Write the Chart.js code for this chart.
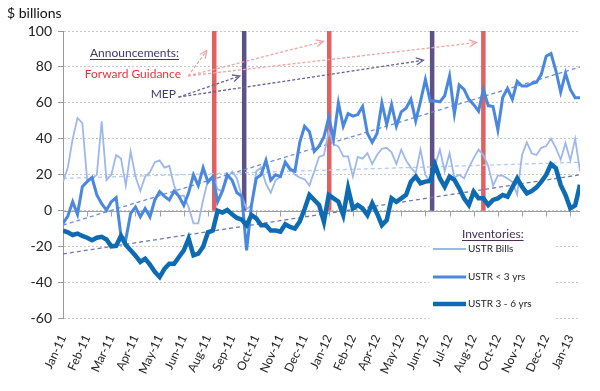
<!DOCTYPE html>
<html>
<head>
<meta charset="utf-8">
<script src="https://cdn.jsdelivr.net/npm/chart.js@4"></script>
<style>
  html, body { margin: 0; padding: 0; background: #fff; }
</style>
</head>
<body>
<canvas id="chart" width="600" height="391"></canvas>
<script>
// tick labels (one every 5 weeks)
const tickLabels = ['Jan-11','Feb-11','Mar-11','Apr-11','May-11','Jun-11','Aug-11','Sep-11','Oct-11','Nov-11','Dec-11',
    'Jan-12','Feb-12','Apr-12','May-12','Jun-12','Jul-12','Aug-12','Oct-12','Nov-12','Dec-12','Jan-13'];

// weekly inventories, $ billions
const ustrBills = [16,24,40,51.6,48.8,17.2,18,20,49.8,17,
    20,31,29,14,33,19,11,19,21.5,27,
    28,24,25,14,8,8.5,2,-7,-7,6,
    17,19,12,11,18,21.8,18,8,1,3,
    22,24,15,10,17,19,27,24,20,18.5,
    17.5,14,22,30,31,44,37,35.8,30.2,30.2,
    19,30,29,32,26,31,34.5,35,32.5,26,
    34,28,24,21,34,20,16,25,34,22,
    32,18.5,20,18,24,29.3,34,31,25,14,
    19.5,19.5,18,16,9,31,38,32,31,35,
    36,40,35,28.5,37.7,28,40,22];
const ustrShort = [-7,-3,5,-2,13.4,16.2,18.5,8.8,4,0.4,
    5,7.3,-14,-16,-1.5,2,-3.4,1.3,-3.4,6,
    10.6,8,6,11,8,3,10,20,14,24,
    16,19,5,11,20,17,10,8,-22,3,
    18,20,28,17,20,19,27,23,22,38,
    47,44,33,36,41,52,40,60,47,54,
    52.6,53.5,58,43,38,43,60,48,59,47,
    55,57,62,50,61,73,61,61,60.6,64,
    75,54,70,67.5,62,59,55.4,67.5,58.5,58,
    45,63,68,62,72,69.4,69.4,70.7,71.5,76,
    86,87.5,78,66,76.5,67.5,62.8,62.8];
const ustrMid = [-11,-12,-13.5,-12.7,-14,-15,-16.4,-15,-14.5,-16,
    -19.8,-19.5,-14,-19,-22,-25,-28.5,-26.7,-30,-34,
    -36.9,-32.3,-29.5,-29.5,-25.7,-22,-15.5,-24.8,-23.9,-20,
    -12,-11,0,-1,0.4,-2,-4,-5,-8,-2.4,
    -4.3,-8,-8,-11,-11,-11.7,-7.5,-9,-9.9,-6,
    1,8.8,6,3.2,-6.2,8.8,6.9,5,-2.4,12.5,
    1.3,3.2,1.3,-2.4,4.1,-1.5,-8,-5.2,6.9,5,
    6.9,8.8,16.2,19,15.3,16.2,16.6,25.6,18,13.4,
    19,17.2,12.5,6.9,3.2,10.6,6.9,6.9,3.2,6,
    6.9,8.8,7.8,13,18,13.4,9.7,11,13,16.2,
    20,25.9,23.7,14.4,8.8,1.3,3,14.4];

// trend lines: value at first and last week
const trendBills = [18, 27];
const trendShort = [-8, 80];
const trendMid = [-24, 20];

// announcements (week position)
const fgWeeks = [31.3, 55.1, 87];
const mepWeeks = [37.5, 76.4];

// annotation arrows, in chart units
const fgArrowFrom = {x: 25.9, y: 75};
const fgArrowTo = [{x: 29.75, y: 89}, {x: 53.9, y: 94.2}, {x: 85.6, y: 93.6}];
const mepArrowFrom = {x: 23.9, y: 63.2};
const mepArrowTo = [{x: 36.6, y: 75}, {x: 74.6, y: 83.7}];

const FONT = 'Lato, "Liberation Sans", sans-serif';
Chart.defaults.font.family = FONT;

const lastWeek = ustrBills.length - 1;
const pts = arr => arr.map((v, i) => ({x: i, y: v}));
const trend = arr => [{x: 0, y: arr[0]}, {x: lastWeek, y: arr[1]}];

const COL_BILLS = '#9db8ea';
const COL_SHORT = '#4a87df';
const COL_MID = '#0d6bb3';
const COL_FG = '#e2605f';
const COL_MEP = '#5d5186';

const datasets = [
    {data: pts(ustrMid), borderColor: COL_MID, borderWidth: 4.5, order: 0},
    {data: pts(ustrShort), borderColor: COL_SHORT, borderWidth: 3, order: 1},
    {data: pts(ustrBills), borderColor: COL_BILLS, borderWidth: 1.8, order: 2},
    {data: trend(trendMid), borderColor: '#6f79ad', borderWidth: 1.3, borderDash: [4, 3], order: 3},
    {data: trend(trendShort), borderColor: '#6c8fd6', borderWidth: 1.3, borderDash: [4, 3], order: 3},
    {data: trend(trendBills), borderColor: '#b4cdee', borderWidth: 1.3, borderDash: [4, 3], order: 3}
];
fgWeeks.forEach(w => datasets.push({data: [{x: w, y: 0}, {x: w, y: 100}], borderColor: COL_FG, borderWidth: 4.5, borderCapStyle: 'butt', order: 4}));
mepWeeks.forEach(w => datasets.push({data: [{x: w, y: 0}, {x: w, y: 100}], borderColor: COL_MEP, borderWidth: 4.5, borderCapStyle: 'butt', order: 4}));
datasets.forEach(d => { d.pointRadius = 0; d.tension = 0; d.fill = false; });

function arrow(ctx, x1, y1, x2, y2, color) {
    ctx.strokeStyle = color;
    ctx.lineWidth = 1.3;
    ctx.setLineDash([3, 2]);
    ctx.beginPath();
    ctx.moveTo(x1, y1);
    ctx.lineTo(x2, y2);
    ctx.stroke();
    ctx.setLineDash([]);
    const a = Math.atan2(y2 - y1, x2 - x1), L = 8, s = 0.45;
    ctx.beginPath();
    ctx.moveTo(x2 - L * Math.cos(a - s), y2 - L * Math.sin(a - s));
    ctx.lineTo(x2, y2);
    ctx.lineTo(x2 - L * Math.cos(a + s), y2 - L * Math.sin(a + s));
    ctx.stroke();
}

function underlined(ctx, text, x, y, color, size) {
    ctx.font = size + 'px ' + FONT;
    ctx.fillStyle = color;
    ctx.textAlign = 'left';
    ctx.textBaseline = 'alphabetic';
    ctx.fillText(text, x, y);
    const w = ctx.measureText(text).width;
    ctx.strokeStyle = color;
    ctx.lineWidth = 1;
    ctx.beginPath();
    ctx.moveTo(x, y + 2.5);
    ctx.lineTo(x + w, y + 2.5);
    ctx.stroke();
}

const overlay = {
    id: 'overlay',
    beforeDatasetsDraw(chart) {
        const {ctx, scales: {x, y}} = chart;
        ctx.save();
        // legend box hides the grid
        ctx.fillStyle = '#fff';
        ctx.fillRect(429, 220, 127, 100);
        // horizontal axis crosses at zero
        const y0 = Math.round(y.getPixelForValue(0)) + 0.5;
        ctx.strokeStyle = '#a0a0a0';
        ctx.lineWidth = 1;
        ctx.beginPath();
        ctx.moveTo(x.left, y0);
        ctx.lineTo(x.right, y0);
        tickLabels.forEach((l, k) => {
            const px = Math.round(x.getPixelForValue(k * 5)) + 0.5;
            ctx.moveTo(px, y0);
            ctx.lineTo(px, y0 + 5);
        });
        ctx.stroke();
        ctx.restore();
    },
    afterDatasetsDraw(chart) {
        const {ctx, scales: {x, y}} = chart;
        ctx.save();
        const px = p => [x.getPixelForValue(p.x), y.getPixelForValue(p.y)];

        const [fx, fy] = px(fgArrowFrom);
        fgArrowTo.forEach(t => { const [tx, ty] = px(t); arrow(ctx, fx, fy, tx, ty, '#f0a3a3'); });
        const [mx, my] = px(mepArrowFrom);
        mepArrowTo.forEach(t => { const [tx, ty] = px(t); arrow(ctx, mx, my, tx, ty, '#6a6390'); });

        // announcement labels
        underlined(ctx, 'Announcements:', 90, 57, '#3d3868', 12);
        ctx.font = '12px ' + FONT;
        ctx.textAlign = 'right';
        ctx.fillStyle = '#e5333d';
        ctx.fillText('Forward Guidance', 181, 78);
        ctx.fillStyle = '#3d3d6b';
        ctx.fillText('MEP', 176, 98);

        // y unit
        ctx.textAlign = 'left';
        ctx.fillStyle = '#111';
        ctx.font = '14px ' + FONT;
        ctx.fillText('$ billions', 7, 18);

        // inventories legend
        underlined(ctx, 'Inventories:', 462, 238, '#4a2f55', 12);
        const rows = [['USTR Bills', COL_BILLS, 1.8, 249], ['USTR < 3 yrs', COL_SHORT, 3, 277], ['USTR 3 - 6 yrs', COL_MID, 4.5, 304]];
        ctx.font = '10px ' + FONT;
        ctx.textBaseline = 'middle';
        rows.forEach(([label, col, w, ry]) => {
            ctx.strokeStyle = col;
            ctx.lineWidth = w;
            ctx.beginPath();
            ctx.moveTo(433, ry);
            ctx.lineTo(466, ry);
            ctx.stroke();
            ctx.fillStyle = '#222';
            ctx.fillText(label, 468, ry);
        });
        ctx.restore();
    }
};

new Chart(document.getElementById('chart'), {
    type: 'line',
    data: {datasets},
    options: {
        responsive: false,
        animation: false,
        layout: {padding: {top: 31, right: 20, left: 0, bottom: 0}},
        plugins: {legend: {display: false}, tooltip: {enabled: false}},
        scales: {
            x: {
                type: 'linear',
                min: 0,
                max: lastWeek,
                grid: {display: false},
                border: {display: false},
                afterBuildTicks: s => { s.ticks = tickLabels.map((l, k) => ({value: k * 5})); },
                afterFit: s => { s.height = 391 - 318.6; },
                ticks: {
                    autoSkip: false,
                    minRotation: 65,
                    maxRotation: 65,
                    padding: 6,
                    color: '#222',
                    font: {size: 12},
                    callback: v => tickLabels[Math.round(v / 5)]
                }
            },
            y: {
                min: -60,
                max: 100,
                afterFit: s => { s.width = 63; },
                ticks: {stepSize: 20, color: '#222', font: {size: 14}, padding: 6},
                grid: {color: '#c8c8c8', tickColor: '#999', tickLength: 5},
                border: {color: '#999', dash: [2, 2]}
            }
        }
    },
    plugins: [overlay]
});
</script>
</body>
</html>
